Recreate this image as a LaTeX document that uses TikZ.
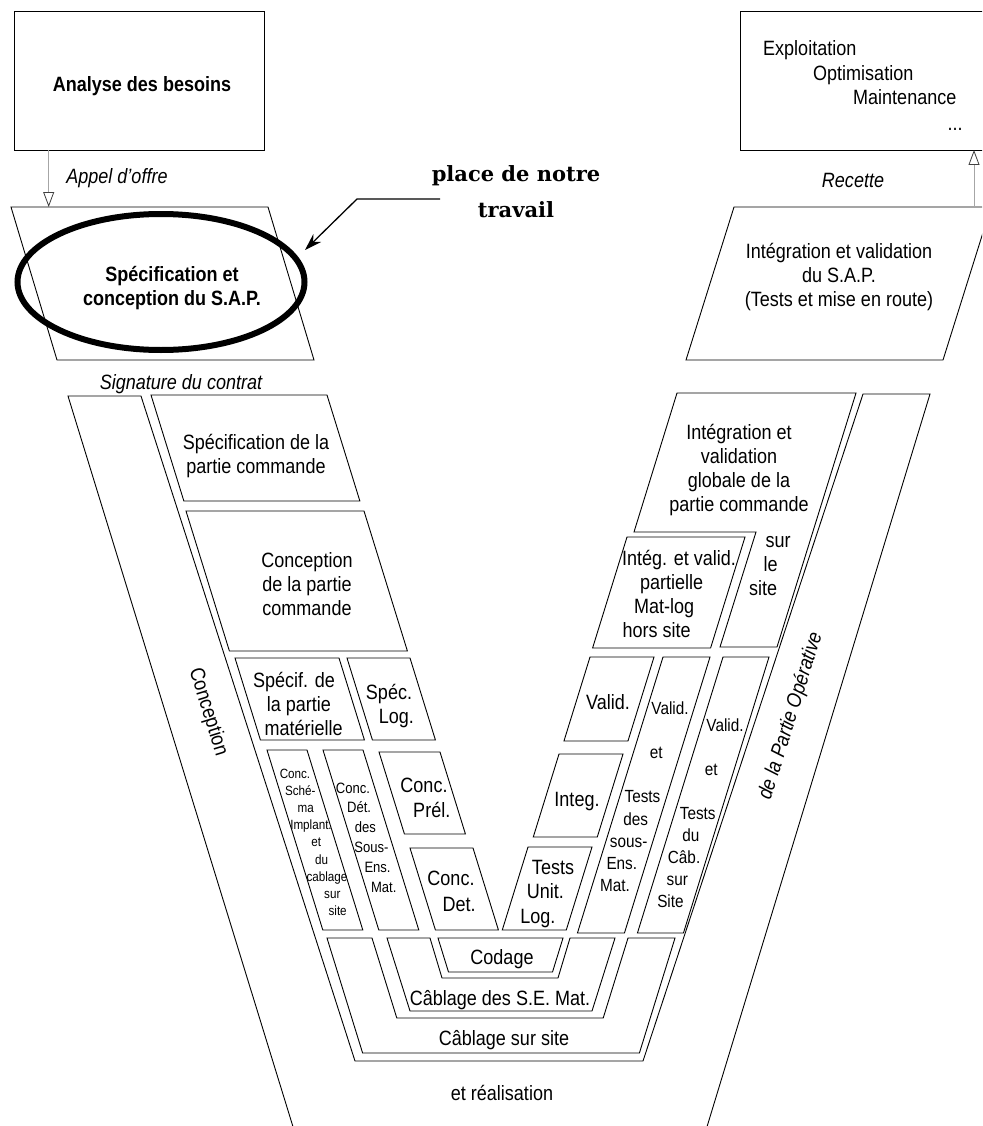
\documentclass[tikz,border=0pt]{standalone}
\usepackage{fontspec}
\setmainfont{Liberation Sans}[FakeStretch=0.87]
\newfontfamily\notefont{DejaVu Serif}
\usetikzlibrary{arrows.meta}

% slanted box: left x and right x of the top edge, top y, bottom y, slope dx/dy
\newcommand\slbox[5]{\draw[edge] (#1,#3) -- (#2,#3) -- ({#2+(#5)*(#4-#3)},#4) -- ({#1+(#5)*(#4-#3)},#4) -- cycle;}
% stacked text lines whose centres follow a slant: [style]{name}{x}{first baseline}{line step}{slope}{lines}
\newcommand\sltext[7][lbl]{%
  \foreach \ln [count=\i from 0] in {#7}{%
    \node[#1] (#2-\i) at ({#3+(#6)*\i*(#5)},{#4+\i*(#5)}) {\ln};}}

\begin{document}
\begin{tikzpicture}[x=1pt,y=-1pt,
  edge/.style={draw=black,line width=0.9pt,line join=miter},
  lbl/.style={font=\fontsize{20.7}{24}\selectfont,anchor=base,inner sep=0pt},
  lblb/.style={lbl,font=\bfseries\fontsize{20.7}{24}\selectfont},
  lbli/.style={lbl,font=\itshape\fontsize{20.7}{24}\selectfont},
  tinytxt/.style={lbl,font=\fontsize{13.4}{16}\selectfont},
  smalltxt/.style={lbl,font=\fontsize{15}{18}\selectfont},
  midtxt/.style={lbl,font=\fontsize{17.6}{21}\selectfont},
  flow/.style={draw=black!35,line width=1pt,-{Triangle[open,length=15pt,width=11pt,color=black!75,line width=0.8pt]}},
  pointer/.style={draw=black,line width=1.3pt,-{Stealth[length=17pt,width=11pt]}},
  ring/.style={draw=black,line width=6pt}]

\useasboundingbox (0,0) rectangle (982,1126);
\clip (0,0) rectangle (982,1126);

% ---------- upper phases ----------
\draw[edge] (14,11) rectangle (264,150);
\node[lblb] (besoins) at (142,92) {Analyse des besoins};

\draw[edge] (740,11) rectangle (990,150);
\node[lbl,anchor=base west] (exploit) at (763,56) {Exploitation};
\node[lbl,anchor=base west] (optim) at (813,81) {Optimisation};
\node[lbl,anchor=base west] (maint) at (853,105) {Maintenance};
\node[lbl] (etc) at (955,131) {...};

\draw[edge] (11,207) -- (268,207) -- (314,360) -- (57,360) -- cycle;
\draw[edge] (734,207) -- (991,207) -- (943,360) -- (686,360) -- cycle;
\sltext[lbl]{integ-sap}{839}{258}{24}{0}{Intégration et validation,du S.A.P.,(Tests et mise en route)}

% transitions
\coordinate (appel-s) at (48.7,150);
\coordinate (appel-e) at (48.7,207);
\draw[flow] (appel-s) -- (appel-e);
\node[lbli] (appel) at (117,184) {Appel d'offre};

\coordinate (recette-s) at (974,207);
\coordinate (recette-e) at (974,150);
\draw[flow] (recette-s) -- (recette-e);
\node[lbli] (recette) at (853,187) {Recette};

\node[lbli] (signature) at (181,389) {Signature du contrat};

% highlighted phase
\draw[ring] (161,282) ellipse [x radius=143.5pt, y radius=68pt];
\sltext[lblb]{spec-sap}{172}{281}{24}{0}{Spécification et,conception du S.A.P.}

\node[lbl,font=\notefont\bfseries\fontsize{21}{35}\selectfont] (place1) at (516,182) {place de notre};
\node[lbl,font=\notefont\bfseries\fontsize{21}{35}\selectfont] (place2) at (516,217) {travail};
\coordinate (ptr-a) at (440,199);
\coordinate (ptr-b) at (357,199);
\coordinate (ptr-c) at (305,250);
\draw[pointer] (ptr-a) -- (ptr-b) -- (ptr-c);

% ---------- the V ----------
\coordinate (vl-bot) at (294,1130);
\coordinate (vr-bot) at (706,1130);
\draw[edge] (vl-bot) -- (68,396) -- (141,396) -- (355,1061) -- (643,1061) -- (863,394) -- (930,394) -- (vr-bot);
\node[lbl,anchor=center,rotate=-72.8] (conc-txt) at (208,712) {Conception};
\node[lbli,anchor=center,rotate=72.8] (po-txt) at (791,716) {de la Partie Opérative};
\node[lbl] (realis) at (502,1100) {et réalisation};

% descending branch
\slbox{151}{327}{395}{501}{0.31}
\sltext{spec-pc}{256}{449}{24}{0}{Spécification de la,partie commande}
\slbox{186}{364}{511}{651}{0.31}
\sltext{conc-pc}{307}{567}{24}{0}{Conception,de la partie,commande}
\slbox{235}{339}{658}{740}{0.31}
\sltext{spec-pm}{294}{687}{24}{0.2}{Spécif. de,la partie,matérielle}
\slbox{347}{410}{658}{740}{0.31}
\sltext{spec-log}{389}{699}{24}{0.31}{Spéc.,Log.}
\slbox{267}{307}{750}{930}{0.31}
\sltext[tinytxt]{conc-sch}{295}{778}{17.2}{0.31}{Conc.,Sché-,ma,Implant.,et,du,cablage,sur,site}
\slbox{323}{363}{750}{930}{0.31}
\sltext[smalltxt]{conc-det}{353}{793}{19.8}{0.31}{Conc.,Dét.,des,Sous-,Ens.,Mat.}
\slbox{379}{440}{752}{834}{0.31}
\sltext{conc-prel}{424}{792}{25}{0.31}{Conc.,Prél.}
\slbox{410}{473}{848}{930}{0.31}
\sltext{conc-det2}{451}{885}{26}{0.31}{Conc.,Det.}

% ascending branch
\draw[edge] (677,393) -- (856,393) -- (777,647) -- (720,647) -- (756,532) -- (634,532) -- cycle;
\sltext{integ-pc}{739}{439}{24}{0}{Intégration et,validation,globale de la,partie commande}
\sltext{sursite}{778}{547}{24}{-0.31}{sur,le,site}
\slbox{627}{745}{537}{648}{-0.31}
\sltext{integ-part}{679}{565}{24}{-0.31}{Intég. et valid.,partielle,Mat-log,hors site}
\slbox{590}{654}{657}{741}{-0.31}
\node[lbl] (valid) at (608,709) {Valid.};
\slbox{559}{623}{754}{837}{-0.31}
\node[lbl] (integ) at (577,806) {Integ.};
\slbox{528}{592}{847}{930}{-0.31}
\sltext{tests-ul}{553}{874}{24.5}{-0.31}{Tests,Unit.,Log.}
\slbox{663}{710}{657}{933}{-0.31}
\sltext[midtxt]{vt-sens}{670}{714}{22.2}{-0.31}{Valid.,{},et,{},Tests,des,sous-,Ens.,Mat.}
\slbox{723}{769}{657}{933}{-0.31}
\sltext[midtxt]{vt-cab}{725}{731}{22}{-0.31}{Valid.,{},et,{},Tests,du,Câb.,sur,Site}

% bottom of the V
\draw[edge] (327,938) -- (362.6,1053) -- (639.4,1053) -- (675,938) -- (628,938) -- (603.2,1018) -- (396.8,1018) -- (372,938) -- cycle;
\node[lbl] (cab-site) at (504,1045) {Câblage sur site};
\draw[edge] (387,938) -- (410,1011) -- (592,1011) -- (615,938) -- (570,938) -- (558,978) -- (442,978) -- (430,938) -- cycle;
\node[lbl] (cab-se) at (500,1005) {Câblage des S.E. Mat.};
\draw[edge] (438,938) -- (563,938) -- (552.5,972) -- (448.5,972) -- cycle;
\node[lbl] (codage) at (502,964) {Codage};

\end{tikzpicture}
\end{document}
